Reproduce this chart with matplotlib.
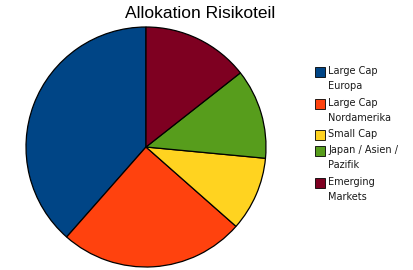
import matplotlib.pyplot as plt
from matplotlib.patches import Rectangle

# Anteile je Segment (Prozent)
labels = ["Large Cap\nEuropa", "Large Cap\nNordamerika", "Small Cap",
          "Japan / Asien /\nPazifik", "Emerging\nMarkets"]
values = [38.5, 25.0, 10.0, 12.1, 14.4]
colors = ["#004586", "#ff420e", "#ffd320", "#579d1c", "#7e0021"]

W, H = 414, 270
fig = plt.figure(figsize=(W / 100, H / 100), dpi=100)
fig.patch.set_facecolor("white")

# Kreis: Mitte (146,147) px, Radius 120 px
cx, cy, r = 146, 147, 120
ax = fig.add_axes([(cx - r) / W, (H - cy - r) / H, 2 * r / W, 2 * r / H])
ax.pie(values, colors=colors, startangle=90, counterclock=True, radius=1,
       wedgeprops=dict(edgecolor="black", linewidth=0.9))
ax.set_xlim(-1, 1)
ax.set_ylim(-1, 1)
ax.set_aspect("equal")
ax.axis("off")

fig.text(200 / W, 1 - 13 / H, "Allokation Risikoteil", ha="center", va="center",
         fontsize=12.5, family="Liberation Sans")

# Legende von Hand, Kästchen am ersten Zeilenanfang
y = 67
for lab, col in zip(labels, colors):
    fig.patches.append(Rectangle((315 / W, 1 - (y + 10) / H), 10 / W, 10 / H,
                                 transform=fig.transFigure, facecolor=col,
                                 edgecolor="black", linewidth=0.6))
    fig.text(328.5 / W, 1 - (y - 1) / H, lab, ha="left", va="top", fontsize=7.0,
             family="DejaVu Sans", linespacing=1.65, color="#1a1a1a")
    y += 15.8 * (lab.count("\n") + 1)

fig.savefig("out.png", dpi=100)
